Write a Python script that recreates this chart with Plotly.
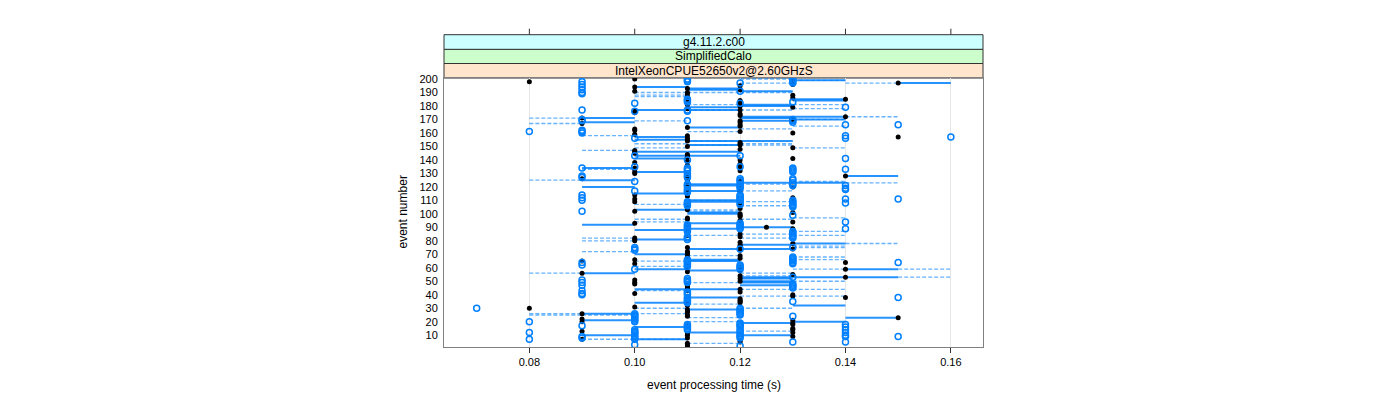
import plotly.graph_objects as go

# ---------------- data ----------------
events = list(range(1, 201))

# black filled dot per event (event 1 .. 200), seconds
black_time = [
    0.11, 0.11, 0.11, 0.11, 0.12, 0.12, 0.09, 0.11, 0.13, 0.11,
    0.11, 0.13, 0.09, 0.13, 0.13, 0.11, 0.11, 0.13, 0.13, 0.09,
    0.13, 0.09, 0.15, 0.11, 0.11, 0.09, 0.11, 0.11, 0.11, 0.08,
    0.10, 0.11, 0.11, 0.12, 0.12, 0.12, 0.12, 0.14, 0.13, 0.13,
    0.10, 0.12, 0.11, 0.12, 0.11, 0.11, 0.11, 0.10, 0.10, 0.12,
    0.10, 0.12, 0.14, 0.12, 0.13, 0.09, 0.11, 0.12, 0.14, 0.12,
    0.11, 0.11, 0.10, 0.14, 0.09, 0.10, 0.12, 0.11, 0.12, 0.11,
    0.11, 0.11, 0.12, 0.13, 0.11, 0.12, 0.12, 0.13, 0.12, 0.10,
    0.10, 0.10, 0.12, 0.11, 0.12, 0.13, 0.13, 0.11, 0.13, 0.125,
    0.11, 0.11, 0.10, 0.13, 0.12, 0.11, 0.11, 0.12, 0.12, 0.12,
    0.13, 0.10, 0.11, 0.12, 0.11, 0.11, 0.12, 0.12, 0.10, 0.13,
    0.10, 0.13, 0.11, 0.10, 0.11, 0.11, 0.12, 0.12, 0.11, 0.13,
    0.11, 0.12, 0.11, 0.12, 0.11, 0.09, 0.11, 0.14, 0.11, 0.10,
    0.10, 0.12, 0.10, 0.10, 0.12, 0.11, 0.12, 0.10, 0.11, 0.12,
    0.13, 0.11, 0.11, 0.11, 0.10, 0.10, 0.10, 0.12, 0.13, 0.11,
    0.12, 0.12, 0.12, 0.11, 0.11, 0.11, 0.15, 0.11, 0.10, 0.13,
    0.12, 0.10, 0.10, 0.11, 0.12, 0.12, 0.09, 0.12, 0.12, 0.13,
    0.09, 0.14, 0.12, 0.12, 0.10, 0.10, 0.12, 0.11, 0.13, 0.12,
    0.11, 0.12, 0.11, 0.12, 0.14, 0.13, 0.11, 0.13, 0.11, 0.11,
    0.10, 0.12, 0.11, 0.10, 0.12, 0.13, 0.15, 0.08, 0.13, 0.10,
]

# blue open circles: time value and the events that show a circle there
blue_times = [0.07, 0.08, 0.09, 0.10, 0.11, 0.12, 0.13, 0.14, 0.15, 0.16]
blue_events = [
    [30],
    [161, 20, 12, 7],
    [198, 196, 194, 192, 190, 189, 177, 170, 169, 162, 161, 160, 134, 128, 127,
     114, 112, 110, 102, 64, 62, 51, 49, 47, 43, 41, 40, 17, 9, 8],
    [182, 176, 156, 143, 135, 124, 117, 75, 74, 73, 59, 26, 25, 24, 23, 22, 21, 20,
     14, 13, 12, 11, 10, 9, 8, 7, 3],
    [200, 199, 198, 185, 184, 183, 177, 176, 169, 140, 134, 133, 132, 130, 128, 127,
     122, 121, 120, 118, 117, 116, 109, 108, 107, 106, 92, 91, 90, 89, 88, 87, 83,
     82, 81, 66, 65, 64, 63, 62, 61, 52, 51, 50, 49, 42, 41, 40, 38, 37, 36, 35, 34,
     18, 17, 16, 15, 14],
    [197, 191, 182, 143, 135, 126, 125, 124, 122, 121, 120, 119, 114, 113, 112, 111,
     110, 108, 107, 93, 92, 91, 90, 89, 74, 62, 61, 60, 59, 30, 29, 28, 27, 26, 25,
     19, 18, 17, 16, 14, 13, 11, 10, 9, 8, 2],
    [200, 199, 198, 197, 183, 170, 169, 168, 134, 133, 132, 131, 126, 125, 123, 122,
     121, 110, 109, 108, 107, 106, 105, 99, 87, 86, 85, 84, 83, 82, 75, 68, 67, 66,
     65, 64, 63, 53, 48, 47, 46, 45, 35, 24, 5],
    [179, 166, 158, 156, 141, 133, 121, 119, 118, 111, 108, 94, 89, 18, 16, 14, 12, 10, 9, 5],
    [166, 111, 64, 38, 9],
    [157],
]

# solid segments: from / to times and the events carrying them
solid_from = [0.09, 0.10, 0.11, 0.12, 0.11, 0.13, 0.12, 0.14, 0.15]
solid_to = [0.10, 0.11, 0.12, 0.13, 0.13, 0.14, 0.15, 0.15, 0.16]
solid_events = [
    [171, 168, 134, 125, 120, 92, 56, 26, 21, 10],
    [194, 177, 157, 155, 146, 143, 141, 131, 115, 103, 88, 81, 70, 59, 44, 34, 16, 7],
    [193, 192, 179, 177, 164, 151, 146, 143, 122, 121, 117, 110, 109, 101, 100, 93,
     89, 74, 66, 65, 58, 44, 38, 29, 12],
    [191, 181, 180, 172, 171, 169, 123, 90, 77, 74, 52, 50, 49, 47, 19, 10],
    [154],
    [199, 185, 184, 172, 170, 123, 78, 32, 20],
    [53],
    [128, 59, 23],
    [197],
]

# dashed segments
dashed_from = [0.08, 0.09, 0.10, 0.11, 0.12, 0.13, 0.14, 0.15]
dashed_to = [0.09, 0.10, 0.11, 0.12, 0.13, 0.14, 0.15, 0.16]
dashed_events = [
    [171, 167, 125, 56, 26, 25],
    [158, 147, 133, 82, 80, 72, 25, 7],
    [190, 188, 187, 169, 152, 149, 107, 96, 94, 65, 61, 43, 30, 26, 7],
    [190, 181, 177, 161, 154, 151, 110, 103, 102, 84, 69, 49, 33, 23, 20, 4],
    [200, 197, 190, 177, 163, 152, 151, 122, 117, 109, 106, 96, 85, 82, 56, 54, 44,
     39, 30, 13],
    [199, 181, 178, 170, 165, 149, 124, 97, 87, 84, 76, 75, 68, 66, 59, 50, 44, 39],
    [197, 172, 123, 78],
    [59, 53],
]

strip_labels = ["IntelXeonCPUE52650v2@2.60GHzS", "SimplifiedCalo", "g4.11.2.c00"]
strip_colors = ["#ffe5cc", "#ccffcc", "#ccffff"]
x_ticks = [0.08, 0.10, 0.12, 0.14, 0.16]
y_ticks = list(range(10, 201, 10))

# ---------------- figure ----------------
FONT = "Liberation Sans, Arial, sans-serif"
BLUE = "#0080ff"


def seg_xy(froms, tos, evlists):
    xs, ys = [], []
    for a, b, evs in zip(froms, tos, evlists):
        for e in evs:
            xs += [a, b, None]
            ys += [e, e, None]
    return xs, ys


fig = go.Figure()

dx, dy = seg_xy(dashed_from, dashed_to, dashed_events)
fig.add_trace(go.Scatter(x=dx, y=dy, mode="lines", hoverinfo="skip",
                         line=dict(color="rgba(0,128,255,0.6)", width=1.3, dash="4px,2px")))

sx, sy = seg_xy(solid_from, solid_to, solid_events)
fig.add_trace(go.Scatter(x=sx, y=sy, mode="lines", hoverinfo="skip",
                         line=dict(color="rgba(0,128,255,0.85)", width=2)))

fig.add_trace(go.Scatter(x=black_time, y=events, mode="markers",
                         marker=dict(symbol="circle", size=5, color="black")))

bx, by = [], []
for t, evs in zip(blue_times, blue_events):
    for e in evs:
        bx.append(t)
        by.append(e)
fig.add_trace(go.Scatter(x=bx, y=by, mode="markers",
                         marker=dict(symbol="circle-open", size=6, color=BLUE,
                                     line=dict(width=1.5, color=BLUE))))

# the page body adds an 8px offset; plot area sits at x 444..983, y 78..347 on the page
OFF = 8
L, R, T, B = 444 - OFF, 983 - OFF, 78 - OFF, 347 - OFF
PW, PH = float(R - L), float(B - T)
strip_h = [14.5 / PH, 14.2 / PH, 14.6 / PH]
shapes = []
annotations = []
y0 = 1.0
for lab, col, h in zip(strip_labels, strip_colors, strip_h):
    shapes.append(dict(type="rect", xref="paper", yref="paper", x0=0, x1=1,
                       y0=y0, y1=y0 + h, fillcolor=col,
                       line=dict(color="#333333", width=1), layer="below"))
    annotations.append(dict(text=lab, xref="paper", yref="paper", x=0.5,
                            y=y0 + h / 2, showarrow=False, xanchor="center",
                            yanchor="middle", font=dict(family=FONT, size=12, color="black")))
    y0 += h
top = y0
for t in x_ticks:
    shapes.append(dict(type="line", xref="x", yref="paper", x0=t, x1=t,
                       y0=top, y1=top + 6 / PH, line=dict(color="#333333", width=1)))

annotations.append(dict(text="event processing time (s)", xref="paper", yref="paper",
                        x=0.5, y=(347 - 385) / PH, showarrow=False, xanchor="center",
                        yanchor="middle", font=dict(family=FONT, size=12, color="black")))
annotations.append(dict(text="event number", xref="paper", yref="paper",
                        x=(402 - 444) / PW, y=0.5, showarrow=False, textangle=-90,
                        xanchor="center", yanchor="middle",
                        font=dict(family=FONT, size=12, color="black")))

fig.update_layout(
    width=1400, height=400,
    margin=dict(l=L, r=1400 - R, t=T, b=400 - B, pad=0),
    paper_bgcolor="white", plot_bgcolor="white",
    showlegend=False,
    shapes=shapes, annotations=annotations,
    xaxis=dict(range=[0.0638, 0.1661], tickvals=x_ticks,
               ticktext=["%.2f" % v for v in x_ticks],
               showgrid=True, gridcolor="#e6e6e6", gridwidth=1,
               zeroline=False, showline=True, mirror=True, linecolor="#808080",
               linewidth=1, ticks="outside", ticklen=5, tickcolor="#333333",
               tickfont=dict(family=FONT, size=11, color="black")),
    yaxis=dict(range=[1.25, 200.75], tickvals=y_ticks,
               ticktext=[str(v) for v in y_ticks],
               showgrid=False, zeroline=False, showline=True, mirror=True,
               linecolor="#808080", linewidth=1, ticks="outside", ticklen=3,
               tickcolor="white",
               tickfont=dict(family=FONT, size=11, color="black")),
)

fig.write_html("out.html")
